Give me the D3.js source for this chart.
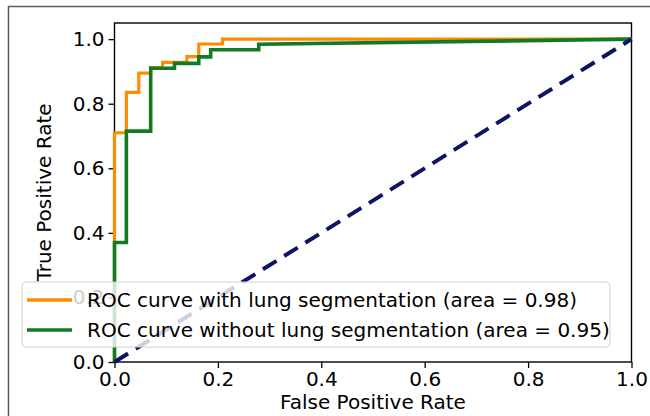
<!DOCTYPE html>
<html>
<head>
<meta charset="utf-8">
<script src="https://cdn.jsdelivr.net/npm/d3@7"></script>
<style>
  body { margin: 0; background: #fff; }
  svg { display: block; font-family: "DejaVu Sans", sans-serif; }
</style>
</head>
<body>
<div id="chartDiv"></div>
<script>
// ROC curve with lung segmentation
var withFpr = [0, 0, 0.023, 0.023, 0.047, 0.047, 0.07, 0.07, 0.093, 0.093, 0.14, 0.14, 0.163, 0.163, 0.209, 0.209, 1.0];
var withTpr = [0, 0.71, 0.71, 0.835, 0.835, 0.895, 0.895, 0.912, 0.912, 0.928, 0.928, 0.946, 0.946, 0.985, 0.985, 1.0, 1.0];

// ROC curve without lung segmentation
var withoutFpr = [0, 0, 0.023, 0.023, 0.07, 0.07, 0.116, 0.116, 0.163, 0.163, 0.186, 0.186, 0.279, 0.279, 1.0];
var withoutTpr = [0, 0.37, 0.37, 0.715, 0.715, 0.91, 0.91, 0.925, 0.925, 0.945, 0.945, 0.967, 0.967, 0.984, 1.0];

var chanceFpr = [0, 1];
var chanceTpr = [0, 1];

var tickValues = [0, 0.2, 0.4, 0.6, 0.8, 1.0];
var legendLabels = ["ROC curve with lung segmentation (area = 0.98)",
                    "ROC curve without lung segmentation (area = 0.95)"];
var legendColors = ["#ff8c00", "#137a24"];

var svg = d3.select("#chartDiv").append("svg")
    .attr("width", 650)
    .attr("height", 416);

// outer frame of the cropped figure
svg.append("path")
    .attr("d", "M8.5,416 V6.5 H650")
    .attr("fill", "none")
    .attr("stroke", "#5a5a5a")
    .attr("stroke-width", 1.5);

var margin = {top: 23, right: 18.5, bottom: 54, left: 114.5},
    width = 650 - margin.left - margin.right,
    height = 416 - margin.top - margin.bottom;

var g = svg.append("g").attr("transform", "translate(" + margin.left + "," + margin.top + ")");

var x = d3.scaleLinear().domain([0, 1]).range([0, width]);
var y = d3.scaleLinear().domain([0, 1.05]).range([height, 0]);

var line = d3.line()
    .x(function(d) { return x(d[0]); })
    .y(function(d) { return y(d[1]); });

function pairs(xs, ys) {
  return xs.map(function(v, i) { return [v, ys[i]]; });
}

// axes
var xAxis = d3.axisBottom(x).tickValues(tickValues).tickFormat(d3.format(".1f")).tickSize(6).tickPadding(4);
var yAxis = d3.axisLeft(y).tickValues(tickValues).tickFormat(d3.format(".1f")).tickSize(6).tickPadding(4);

g.append("g").attr("transform", "translate(0," + height + ")").call(xAxis);
g.append("g").call(yAxis);

g.selectAll(".tick text").attr("font-size", 20).attr("font-family", "DejaVu Sans").attr("fill", "#000");
g.selectAll(".tick line").attr("stroke", "#000").attr("stroke-width", 1.3);
g.selectAll(".domain").remove();

// spines
g.append("rect")
    .attr("width", width)
    .attr("height", height)
    .attr("fill", "none")
    .attr("stroke", "#000")
    .attr("stroke-width", 1.4);

// axis labels
g.append("text")
    .attr("x", width / 2)
    .attr("y", height + 47)
    .attr("text-anchor", "middle")
    .attr("font-size", 20)
    .text("False Positive Rate");

g.append("text")
    .attr("transform", "translate(" + (51 - margin.left) + "," + (height / 2) + ") rotate(-90)")
    .attr("text-anchor", "middle")
    .attr("font-size", 20)
    .text("True Positive Rate");

var plot = g.append("g");

plot.append("path")
    .datum(pairs(withFpr, withTpr))
    .attr("d", line)
    .attr("fill", "none")
    .attr("stroke", legendColors[0])
    .attr("stroke-width", 3.2);

plot.append("path")
    .datum(pairs(withoutFpr, withoutTpr))
    .attr("d", line)
    .attr("fill", "none")
    .attr("stroke", legendColors[1])
    .attr("stroke-width", 3.6);

plot.append("path")
    .datum(pairs(chanceFpr, chanceTpr))
    .attr("d", line)
    .attr("fill", "none")
    .attr("stroke", "#0d1466")
    .attr("stroke-width", 4)
    .attr("stroke-dasharray", "16,9");

// legend
var legend = svg.append("g");
legend.append("rect")
    .attr("x", 22)
    .attr("y", 282)
    .attr("width", 588)
    .attr("height", 65)
    .attr("rx", 4)
    .attr("fill", "#fff")
    .attr("fill-opacity", 0.8)
    .attr("stroke", "#d0d0d0")
    .attr("stroke-width", 1);

var items = legend.selectAll(".item").data(legendLabels).enter()
    .append("g")
    .attr("transform", function(d, i) { return "translate(0," + (300 + i * 30) + ")"; });

items.append("line")
    .attr("x1", 27).attr("x2", 72)
    .attr("stroke", function(d, i) { return legendColors[i]; })
    .attr("stroke-width", 3.5);

items.append("text")
    .attr("x", 87)
    .attr("y", 7)
    .attr("font-size", 20)
    .text(function(d) { return d; });
</script>
</body>
</html>
